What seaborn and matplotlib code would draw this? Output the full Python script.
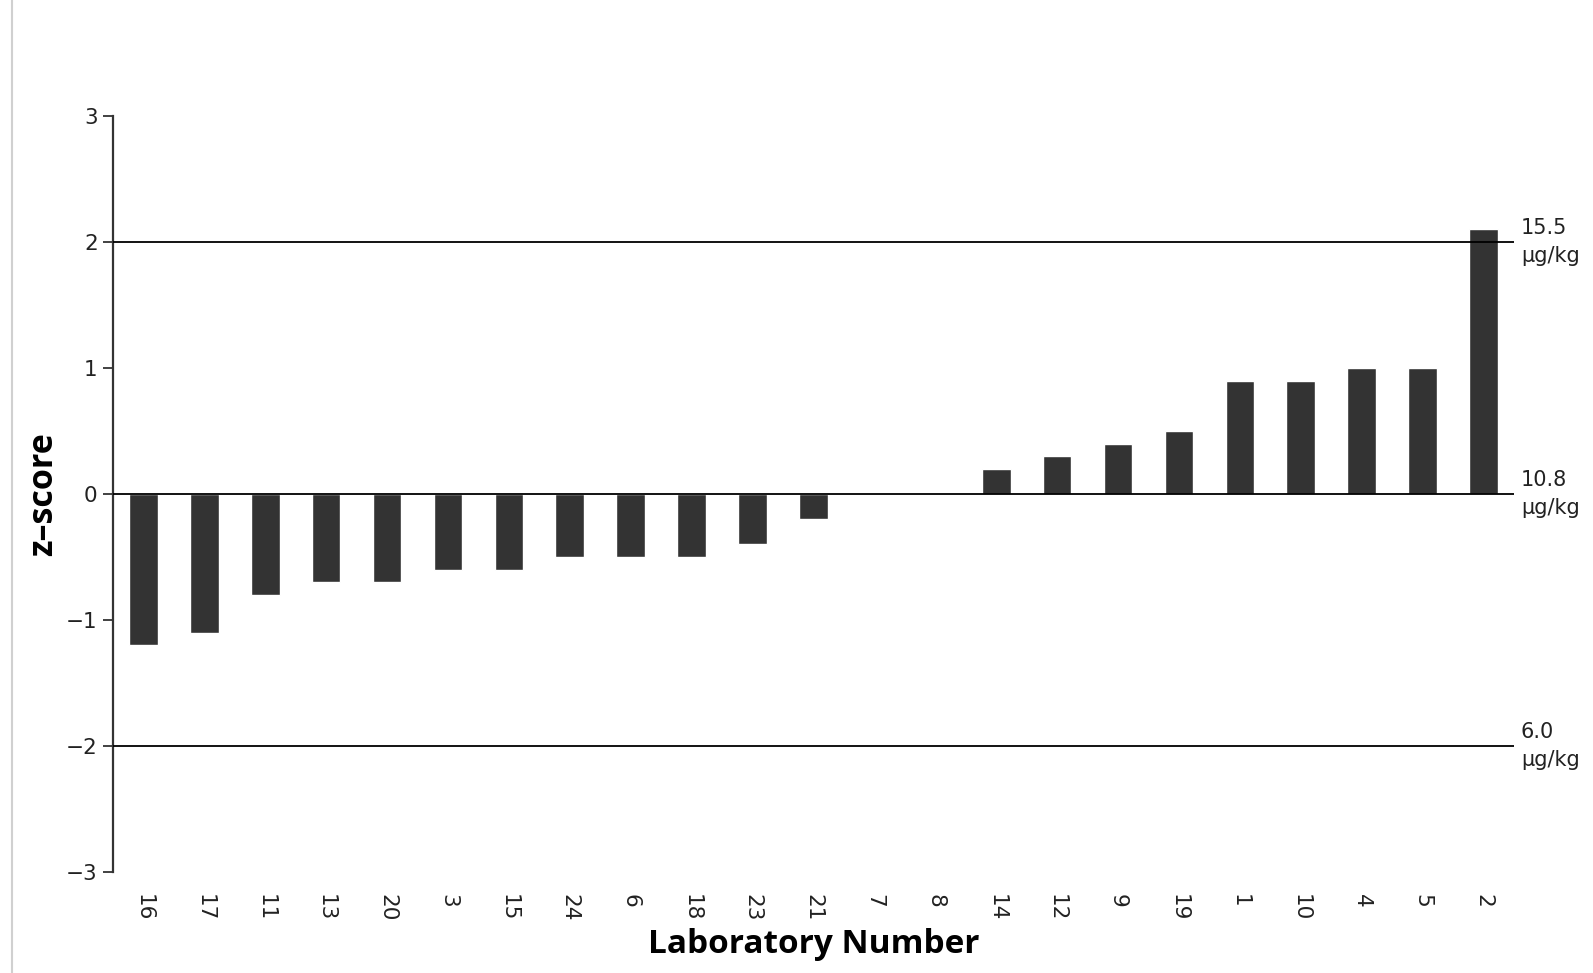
import numpy as np
import pandas as pd
import seaborn as sns
import matplotlib.pyplot as plt
from matplotlib.lines import Line2D

# Laboratory z-scores, sorted as in the report
labs = ["16", "17", "11", "13", "20", "3", "15", "24", "6", "18", "23", "21",
        "7", "8", "14", "12", "9", "19", "1", "10", "4", "5", "2"]
z_scores = [-1.2, -1.1, -0.8, -0.7, -0.7, -0.6, -0.6, -0.5, -0.5, -0.5, -0.4, -0.2,
            0.0, 0.0, 0.2, 0.3, 0.4, 0.5, 0.9, 0.9, 1.0, 1.0, 2.1]

# reference lines and their concentration labels
ref_z = [2, 0, -2]
ref_labels = ["15.5\nµg/kg", "10.8\nµg/kg", "6.0\nµg/kg"]
y_ticks = [-3, -2, -1, 0, 1, 2, 3]

df = pd.DataFrame({"lab": labs, "z": z_scores})

sns.set_style("white")
plt.rcParams['font.family'] = ['DejaVu Sans']

fig = plt.figure(figsize=(15.93, 9.73), dpi=100)
ax = fig.add_axes([0.0709, 0.1038, 0.8795, 0.777])

sns.barplot(data=df, x="lab", y="z", order=labs, color="#333333",
            width=0.47, saturation=1, ax=ax, zorder=2)

for z, lab in zip(ref_z, ref_labels):
    ax.axhline(z, color="black", lw=1.3, zorder=3)
    ax.annotate(lab, xy=(1.0, z), xycoords=("axes fraction", "data"),
                xytext=(5, 0), textcoords="offset points",
                ha="left", va="center", fontsize=15, color="#222222",
                linespacing=1.45)

ax.set_xlim(-0.5, len(labs) - 0.5)
ax.set_ylim(-3, 3)
ax.set_yticks(y_ticks)
ax.set_yticklabels([str(t) if t >= 0 else "\u2212" + str(-t) for t in y_ticks])

for direction in ["top", "right", "bottom"]:
    ax.spines[direction].set_visible(False)
ax.spines["left"].set_color("#333333")
ax.spines["left"].set_linewidth(1.6)

ax.tick_params(axis="y", which="both", left=True, length=7, width=1.3,
               color="#333333", labelsize=15.5, labelcolor="#222222", pad=4)
ax.tick_params(axis="x", bottom=False, labelsize=15.5, labelcolor="#222222",
               labelrotation=-90, pad=12)

ax.set_xlabel("Laboratory Number", fontsize=24, fontweight="bold",
              family="Open Sans", color="black", labelpad=5)
ax.set_ylabel("z\u2013score", fontsize=24.5, fontweight="bold",
              family="Open Sans", color="black", labelpad=4)

# faint frame line on the left edge of the page
fig.add_artist(Line2D([0.0078, 0.0078], [0.0, 1.0], transform=fig.transFigure,
                      color="#d0d0d0", lw=1.5))

fig.savefig("out.png", dpi=100)
